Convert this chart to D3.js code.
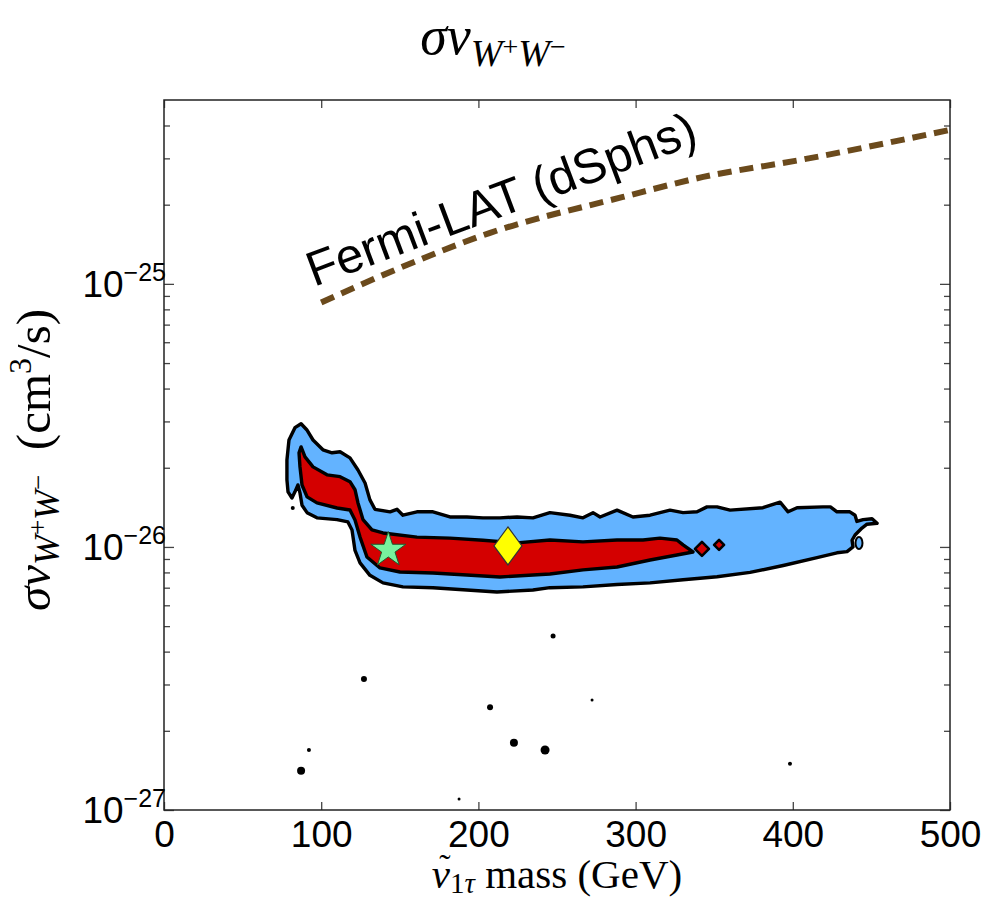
<!DOCTYPE html>
<html>
<head>
<meta charset="utf-8">
<script src="https://cdn.jsdelivr.net/npm/d3@7"></script>
<style>
  body { margin: 0; background: #fff; }
  svg { display: block; }
</style>
</head>
<body>
<div id="chart"></div>
<script>
// contour values are sigma*v in units of 1e-26 cm^3/s
var UNIT = 1e-26;

var massTicks = [0, 100, 200, 300, 400, 500];
var decadeTicks = [1e-27, 1e-26, 1e-25];
var decadeLabels = ['\u221227', '\u221226', '\u221225'];

// 95% (2 sigma) region, outer boundary
var region95 = [
  [87.2, 2.94], [90.8, 2.79], [94.8, 2.55], [101.1, 2.34], [106.9, 2.28], [112.0, 2.30],
  [118.3, 2.18], [123.4, 1.96], [127.9, 1.75], [131.0, 1.51], [134.2, 1.39], [143.8, 1.36],
  [148.2, 1.39], [152.0, 1.32], [160.9, 1.36], [171.1, 1.36], [181.9, 1.30], [192.7, 1.30],
  [202.9, 1.29], [213.7, 1.29], [224.6, 1.30], [234.7, 1.29], [245.5, 1.35], [258.3, 1.32],
  [266.5, 1.29], [272.9, 1.35], [277.4, 1.30], [288.2, 1.38], [298.3, 1.30], [309.2, 1.32],
  [321.9, 1.38], [330.2, 1.35], [339.1, 1.36], [345.4, 1.42], [351.8, 1.42], [360.1, 1.38],
  [381.0, 1.41], [391.9, 1.48], [397.0, 1.36], [402.7, 1.41], [419.2, 1.42], [423.9, 1.42],
  [428.1, 1.36], [436.3, 1.36], [439.6, 1.32], [440.8, 1.25], [444.7, 1.27], [450.4, 1.28],
  [453.6, 1.23], [447.2, 1.22], [444.0, 1.18], [439.6, 1.11], [437.7, 1.06], [438.3, 1.00],
  [434.5, 0.96], [428.1, 0.95], [415.4, 0.91], [393.9, 0.85], [372.8, 0.80], [351.8, 0.77],
  [330.2, 0.75], [309.2, 0.73], [288.2, 0.72], [266.5, 0.705], [245.5, 0.70], [234.7, 0.686],
  [211.8, 0.674], [192.7, 0.686], [171.1, 0.70], [152.0, 0.705], [139.3, 0.73], [131.0, 0.78],
  [124.7, 0.87], [121.5, 0.97], [119.6, 1.16], [117.0, 1.245], [110.1, 1.27], [97.3, 1.29],
  [91.0, 1.35], [87.8, 1.44], [86.5, 1.605], [85.2, 1.72], [83.3, 1.62], [81.4, 1.535],
  [78.9, 1.62], [78.2, 1.80], [78.2, 2.14], [79.5, 2.55], [83.3, 2.84]
];

// 68% (1 sigma) region
var region68 = [
  [87.2, 2.40], [89.7, 2.20], [94.8, 2.015], [103.7, 1.88], [112.0, 1.85], [118.3, 1.77],
  [121.5, 1.65], [123.4, 1.47], [126.6, 1.27], [132.3, 1.16], [139.3, 1.13], [160.9, 1.09],
  [181.9, 1.08], [202.9, 1.06], [224.6, 1.036], [245.5, 1.063], [266.5, 1.045], [288.2, 1.063],
  [304.7, 1.063], [315.5, 1.08], [326.3, 1.063], [330.2, 1.018], [336.5, 0.957], [326.3, 0.932],
  [309.2, 0.892], [288.2, 0.839], [266.5, 0.818], [245.5, 0.789], [234.7, 0.782], [213.7, 0.769],
  [192.7, 0.782], [171.1, 0.796], [150.1, 0.803], [137.4, 0.832], [129.1, 0.916], [124.7, 1.09],
  [121.5, 1.267], [118.3, 1.382], [110.1, 1.406], [97.3, 1.47], [91.0, 1.55], [87.8, 1.72],
  [86.5, 2.015], [85.9, 2.28]
];

var redIslands = [[342.2, 0.983], [353.1, 1.018]];
var blueIslands = [[442.1, 1.036]];

// isolated tiny contour blobs
var blobs = [
  [81.9, 1.406], [247.5, 0.459], [127.2, 0.315], [272.3, 0.262], [207.4, 0.246],
  [92.2, 0.169], [222.6, 0.180], [242.4, 0.169], [87.2, 0.141], [187.7, 0.110], [398.2, 0.150]
];
var blobSize = [2, 2.5, 3, 1.5, 3, 2, 4, 4.5, 4, 1.5, 2];

// Fermi-LAT dwarf spheroidal limit
var fermiMass = [100, 150, 207, 292, 343, 405, 500];
var fermiSigma = [8.5e-26, 1.15e-25, 1.56e-25, 2.14e-25, 2.55e-25, 2.96e-25, 3.85e-25];

var bestFit = [142.7, 0.974];
var postMean = [218.8, 1.009];

var width = 987, height = 900;
var margin = {top: 100, right: 37, bottom: 90, left: 164};

var svg = d3.select('#chart').append('svg')
  .attr('width', width)
  .attr('height', height);

var x = d3.scaleLinear().domain([0, 500]).range([margin.left, width - margin.right]);
var y = d3.scaleLog().domain([1e-27, 5e-25]).range([height - margin.bottom, margin.top]);

svg.append('clipPath').attr('id', 'plotclip')
  .append('rect')
  .attr('x', margin.left).attr('y', margin.top)
  .attr('width', x(500) - x(0)).attr('height', y(1e-27) - y(5e-25));

var plot = svg.append('g').attr('clip-path', 'url(#plotclip)');

var contourLine = d3.line()
  .x(function(d) { return x(d[0]); })
  .y(function(d) { return y(d[1] * UNIT); });

// Blue 2 sigma region
plot.append('path')
  .attr('d', contourLine(region95) + 'Z')
  .attr('fill', '#63b3ff')
  .attr('stroke', '#000')
  .attr('stroke-width', 3.4)
  .attr('stroke-linejoin', 'round');

plot.selectAll('.blue-island').data(blueIslands).enter()
  .append('ellipse')
  .attr('cx', function(d) { return x(d[0]); })
  .attr('cy', function(d) { return y(d[1] * UNIT); })
  .attr('rx', 3.5).attr('ry', 6)
  .attr('fill', '#63b3ff').attr('stroke', '#000').attr('stroke-width', 2);

// Red 1 sigma region
plot.append('path')
  .attr('d', contourLine(region68) + 'Z')
  .attr('fill', '#d40000')
  .attr('stroke', '#000')
  .attr('stroke-width', 3.4)
  .attr('stroke-linejoin', 'round');

plot.selectAll('.red-island').data(redIslands).enter()
  .append('path')
  .attr('d', function(d, i) {
    var cx = x(d[0]), cy = y(d[1] * UNIT), r = i == 0 ? 7 : 5;
    return 'M' + cx + ',' + (cy - r) + 'L' + (cx + r) + ',' + cy +
      'L' + cx + ',' + (cy + r) + 'L' + (cx - r) + ',' + cy + 'Z';
  })
  .attr('fill', '#d40000').attr('stroke', '#000').attr('stroke-width', 2.6)
  .attr('stroke-linejoin', 'round');

plot.selectAll('.blob').data(blobs).enter()
  .append('circle')
  .attr('cx', function(d) { return x(d[0]); })
  .attr('cy', function(d) { return y(d[1] * UNIT); })
  .attr('r', function(d, i) { return blobSize[i]; })
  .attr('fill', '#000');

// Fermi-LAT line
var fermi = fermiMass.map(function(m, i) { return [m, fermiSigma[i]]; });
plot.append('path')
  .attr('d', d3.line()
    .x(function(d) { return x(d[0]); })
    .y(function(d) { return y(d[1]); })
    .curve(d3.curveMonotoneX)(fermi))
  .attr('fill', 'none')
  .attr('stroke', '#6b4a1c')
  .attr('stroke-width', 6)
  .attr('stroke-dasharray', '14,8');

// Best fit star and posterior mean diamond
plot.append('path')
  .attr('d', d3.symbol().type(d3.symbolStar).size(380)())
  .attr('transform', 'translate(' + x(bestFit[0]) + ',' + y(bestFit[1] * UNIT) + ')')
  .attr('fill', '#78f29e')
  .attr('stroke', '#1d5a2c')
  .attr('stroke-width', 1);

var dx = x(postMean[0]), dy = y(postMean[1] * UNIT);
plot.append('path')
  .attr('d', 'M' + dx + ',' + (dy - 19) + 'L' + (dx + 14) + ',' + dy +
    'L' + dx + ',' + (dy + 19) + 'L' + (dx - 14) + ',' + dy + 'Z')
  .attr('fill', '#ffff00')
  .attr('stroke', '#333')
  .attr('stroke-width', 1.2);

// Fermi-LAT label
svg.append('text')
  .attr('transform', 'translate(314,287) rotate(-20.5)')
  .attr('font-family', 'Liberation Sans, Arial, sans-serif')
  .attr('font-size', 49)
  .attr('fill', '#000')
  .text('Fermi-LAT (dSphs)');

// Axes: ticks pointing inward on all four sides
var minorTicks = [];
[-27, -26, -25].forEach(function(e) {
  for (var k = 2; k <= 9; k++) {
    var v = k * Math.pow(10, e);
    if (v <= 5e-25) minorTicks.push(v);
  }
});

function styleAxis(g) {
  g.select('.domain').remove();
  g.selectAll('.tick line').attr('stroke', '#444').attr('stroke-width', 1.3);
}

svg.append('g')
  .attr('transform', 'translate(0,' + y(1e-27) + ')')
  .call(d3.axisBottom(x).tickValues(massTicks).tickSizeInner(-8).tickSizeOuter(0)
    .tickPadding(11).tickFormat(d3.format('d')))
  .call(styleAxis)
  .call(function(g) {
    g.selectAll('text')
      .attr('font-family', 'Liberation Sans, Arial, sans-serif')
      .attr('font-size', 37)
      .attr('fill', '#000');
  });

svg.append('g')
  .attr('transform', 'translate(0,' + y(5e-25) + ')')
  .call(d3.axisTop(x).tickValues(massTicks).tickSizeInner(-8).tickSizeOuter(0).tickFormat(''))
  .call(styleAxis);

[['major', decadeTicks, 10], ['minor', minorTicks, 6]].forEach(function(t) {
  svg.append('g')
    .attr('transform', 'translate(' + x(0) + ',0)')
    .call(d3.axisLeft(y).tickValues(t[1]).tickSizeInner(-t[2]).tickSizeOuter(0).tickFormat(''))
    .call(styleAxis);
  svg.append('g')
    .attr('transform', 'translate(' + x(500) + ',0)')
    .call(d3.axisRight(y).tickValues(t[1]).tickSizeInner(-t[2]).tickSizeOuter(0).tickFormat(''))
    .call(styleAxis);
});

// frame
svg.append('rect')
  .attr('x', x(0)).attr('y', y(5e-25))
  .attr('width', x(500) - x(0)).attr('height', y(1e-27) - y(5e-25))
  .attr('fill', 'none')
  .attr('stroke', '#222')
  .attr('stroke-width', 1.5);

// decade labels 10^-n
var decLab = svg.selectAll('.declabel').data(decadeTicks).enter()
  .append('text')
  .attr('x', x(0) + 2)
  .attr('y', function(d) { return y(d) + 13; })
  .attr('text-anchor', 'end')
  .attr('font-family', 'Liberation Sans, Arial, sans-serif')
  .attr('fill', '#000');
decLab.append('tspan').attr('font-size', 37).text('10');
decLab.append('tspan').attr('font-size', 25).attr('dy', -16)
  .text(function(d, i) { return decadeLabels[i]; });

// title
var title = svg.append('text')
  .attr('x', 493).attr('y', 54)
  .attr('text-anchor', 'middle')
  .attr('font-family', 'Liberation Serif, Times New Roman, serif')
  .attr('font-style', 'italic')
  .attr('fill', '#000');
title.append('tspan').attr('font-size', 54).text('\u03c3v');
title.append('tspan').attr('font-size', 38).attr('dy', 12).text('W');
title.append('tspan').attr('font-size', 28).attr('font-style', 'normal').attr('dy', -10).text('+');
title.append('tspan').attr('font-size', 38).attr('dy', 10).text('W');
title.append('tspan').attr('font-size', 28).attr('font-style', 'normal').attr('dy', -10).text('\u2212');

// x label
var xl = svg.append('text')
  .attr('x', (x(0) + x(500)) / 2).attr('y', 888)
  .attr('text-anchor', 'middle')
  .attr('font-family', 'Liberation Serif, Times New Roman, serif')
  .attr('fill', '#000');
xl.append('tspan').attr('font-size', 41).attr('font-style', 'italic').text('\u03bd');
xl.append('tspan').attr('font-size', 29).attr('dy', 5).text('1');
xl.append('tspan').attr('font-size', 29).attr('font-style', 'italic').text('\u03c4');
xl.append('tspan').attr('font-size', 41).attr('dy', -5).text(' mass (GeV)');

// tilde over the nu
var nuBox = xl.node().getExtentOfChar(0);
svg.append('text')
  .attr('x', nuBox.x + nuBox.width / 2 + 4)
  .attr('y', 878)
  .attr('text-anchor', 'middle')
  .attr('font-family', 'Liberation Serif, Times New Roman, serif')
  .attr('font-size', 34)
  .attr('fill', '#000')
  .text('\u02dc');

// y label
var yl = svg.append('text')
  .attr('transform', 'translate(50,460) rotate(-90)')
  .attr('text-anchor', 'middle')
  .attr('font-family', 'Liberation Serif, Times New Roman, serif')
  .attr('fill', '#000');
yl.append('tspan').attr('font-size', 49).attr('font-style', 'italic').text('\u03c3v');
yl.append('tspan').attr('font-size', 36).attr('font-style', 'italic').attr('dy', 9).text('W');
yl.append('tspan').attr('font-size', 27).attr('dy', -12).text('+');
yl.append('tspan').attr('font-size', 36).attr('font-style', 'italic').attr('dy', 12).text('W');
yl.append('tspan').attr('font-size', 27).attr('dy', -12).text('\u2212');
yl.append('tspan').attr('font-size', 49).attr('dy', 3).text('\u2002(cm');
yl.append('tspan').attr('font-size', 32).attr('dy', -19).text('3');
yl.append('tspan').attr('font-size', 49).attr('dy', 19).text('/s)');
</script>
</body>
</html>
